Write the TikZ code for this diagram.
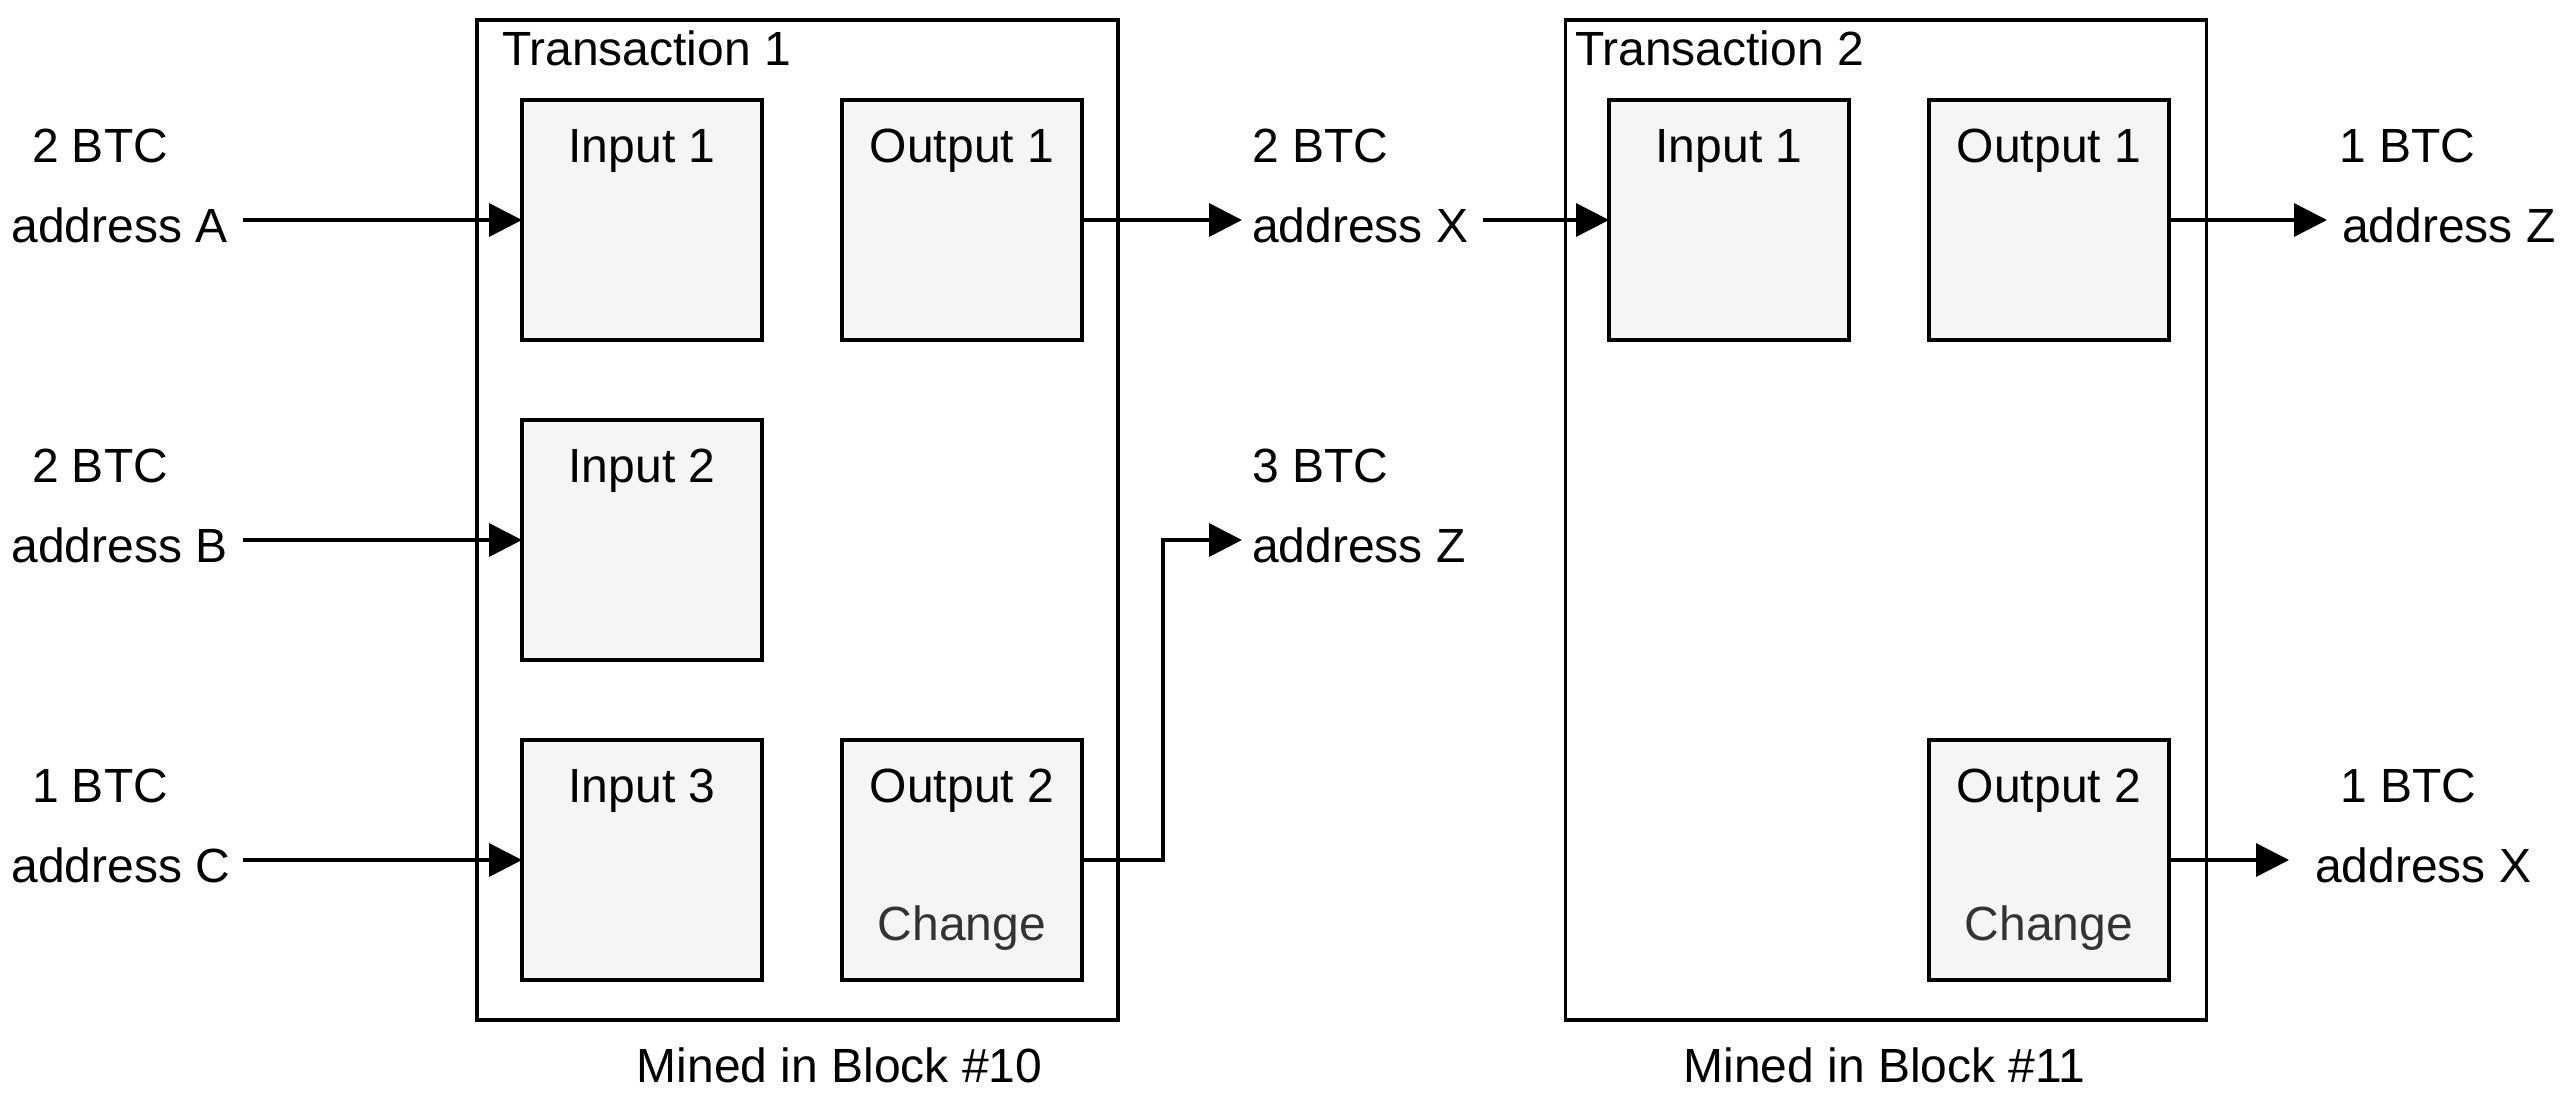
\documentclass[tikz,border=0pt]{standalone}
\usepackage{fontspec}
\setmainfont{Liberation Sans}
\usetikzlibrary{arrows.meta}
\definecolor{boxfill}{HTML}{F5F5F5}
\definecolor{changegray}{HTML}{333333}
\begin{document}
\begin{tikzpicture}[x=1pt,y=-1pt,
  every node/.style={font=\fontsize{48}{57}\selectfont, inner sep=0pt, outer sep=0pt},
  txbox/.style={draw=black, line width=3.5pt, minimum width=641pt, minimum height=1000pt},
  iobox/.style={draw=black, fill=boxfill, line width=3.5pt, minimum width=240pt, minimum height=240pt},
  txt/.style={anchor=base west},
  ctxt/.style={anchor=base},
  chg/.style={anchor=base, text=changegray},
  arr/.style={line width=3.5pt, line join=miter, -{Triangle[length=33pt,width=33pt]}}]
\useasboundingbox (0,0) rectangle (2572,1100);

% transaction containers
\node[txbox] (t1) at (797.5,520) {};
\node[txbox] (t2) at (1886,520) {};
\node[txt] (t1title) at (502,65) {Transaction 1};
\node[txt] (t2title) at (1575,65) {Transaction 2};
\node[ctxt] (blk10) at (839.5,1082) {Mined in Block \#10};
\node[ctxt] (blk11) at (1884.5,1082) {Mined in Block \#11};

% transaction 1 boxes
\node[iobox] (i1) at (642,220) {};
\node[iobox] (i2) at (642,540) {};
\node[iobox] (i3) at (642,860) {};
\node[iobox] (o1) at (962,220) {};
\node[iobox] (o2) at (962,860) {};
\node[ctxt] (li1) at (642,162) {Input 1};
\node[ctxt] (li2) at (642,482) {Input 2};
\node[ctxt] (li3) at (642,802) {Input 3};
\node[ctxt] (lo1) at (962,162) {Output 1};
\node[ctxt] (lo2) at (962,802) {Output 2};
\node[chg] (lc1) at (962,940) {Change};

% transaction 2 boxes
\node[iobox] (ti1) at (1729,220) {};
\node[iobox] (to1) at (2049,220) {};
\node[iobox] (to2) at (2049,860) {};
\node[ctxt] (lti1) at (1729,162) {Input 1};
\node[ctxt] (lto1) at (2049,162) {Output 1};
\node[ctxt] (lto2) at (2049,802) {Output 2};
\node[chg] (lc2) at (2049,940) {Change};

% left texts
\node[txt] (btcA) at (32,162) {2 BTC};
\node[txt] (addrA) at (11.5,242) {address A};
\node[txt] (btcB) at (32,482) {2 BTC};
\node[txt] (addrB) at (11.5,562) {address B};
\node[txt] (btcC) at (32,802) {1 BTC};
\node[txt] (addrC) at (11.5,882) {address C};

% middle texts
\node[txt] (btcX) at (1252.5,162) {2 BTC};
\node[txt] (addrX) at (1252,242) {address X};
\node[txt] (btcZ) at (1252,482) {3 BTC};
\node[txt] (addrZ) at (1252,562) {address Z};

% right texts
\node[txt] (btcZ2) at (2339,162) {1 BTC};
\node[txt] (addrZ2) at (2342,242) {address Z};
\node[txt] (btcX2) at (2340,802) {1 BTC};
\node[txt] (addrX2) at (2315,882) {address X};

% connector ends
\coordinate (sA) at (243,220);
\coordinate (sB) at (243,540);
\coordinate (sC) at (243,860);
\coordinate (tX) at (1242,220);
\coordinate (elb) at (1163,860);
\coordinate (tZ) at (1242,540);
\coordinate (sX) at (1483,220);
\coordinate (tZ2) at (2327,220);
\coordinate (tX2) at (2289,860);

% connectors
\draw[arr] (sA) -- (i1.west);
\draw[arr] (sB) -- (i2.west);
\draw[arr] (sC) -- (i3.west);
\draw[arr] (o1.east) -- (tX);
\draw[arr] (o2.east) -- (elb) |- (tZ);
\draw[arr] (sX) -- (ti1.west);
\draw[arr] (to1.east) -- (tZ2);
\draw[arr] (to2.east) -- (tX2);
\end{tikzpicture}
\end{document}
